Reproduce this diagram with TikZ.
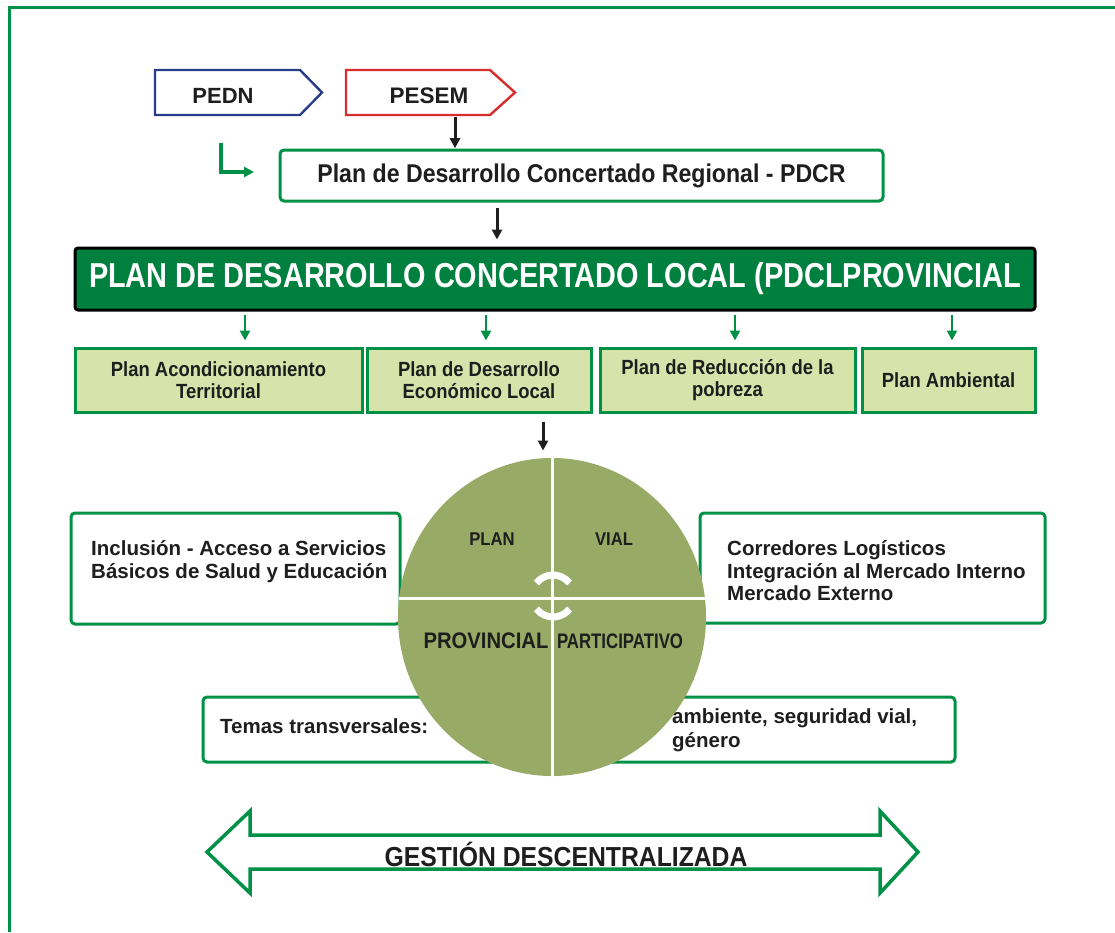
\documentclass[tikz,border=0pt]{standalone}
\usepackage{fontspec}
\setmainfont{Liberation Sans}
\newfontfamily\nar{Liberation Sans}[FakeStretch=0.9]
\newfontfamily\nart{Liberation Sans}[FakeStretch=0.835]
\newfontfamily\narr{Liberation Sans}[FakeStretch=0.8]
\usetikzlibrary{arrows.meta,calc,shapes.geometric}
\definecolor{gborder}{RGB}{0,145,70}
\definecolor{dkgreen}{RGB}{0,128,62}
\definecolor{lgreen}{RGB}{214,228,172}
\definecolor{olive}{RGB}{151,170,102}
\definecolor{pblue}{RGB}{40,60,140}
\definecolor{pred}{RGB}{215,45,45}
\definecolor{txt}{RGB}{30,30,30}
\begin{document}
\begin{tikzpicture}[x=1pt,y=-1pt,
  txtc/.style={text=txt,inner sep=0,font=\bfseries},
  gbox/.style={draw=gborder,line width=3,rounded corners=4,fill=white,inner sep=0},
  subbox/.style={draw=gborder,line width=3,fill=lgreen,inner sep=0,minimum height=64,align=center,text=txt,font=\nar\bfseries\fontsize{20.5}{22}\selectfont},
  circtext/.style={text=txt,inner sep=0},
  sidetext/.style={text=txt,inner sep=0,anchor=west,align=left},
  barrow/.style={draw=txt,line width=3,-{Triangle[length=10,width=10]}},
  garrow/.style={draw=gborder,line width=2.8,-{Triangle[length=10,width=10]}}
]
\useasboundingbox (0,0) rectangle (1115,932);
\fill[white] (0,0) rectangle (1115,932);
% outer frame
\draw[gborder,line width=3] (9,932) -- (9,7) -- (1115,7);

% PEDN / PESEM
\draw[pblue,line width=2.4,line join=miter] (155,70) -- (300,70) -- (322,92.5) -- (300,115) -- (155,115) -- cycle;
\node[txtc,font=\bfseries\fontsize{22}{26}\selectfont] (pedn) at (223,96) {PEDN};
\draw[pred,line width=2.4,line join=miter] (346,70) -- (490,70) -- (515,92.5) -- (490,115) -- (346,115) -- cycle;
\node[minimum width=144,minimum height=45,inner sep=0] (pesem) at (418,92.5) {};
\node[txtc,font=\bfseries\fontsize{22.5}{26}\selectfont] (pesemtext) at (429,96) {PESEM};

% PDCR
\node[gbox,minimum width=603,minimum height=51] (pdcr) at (581.5,175.5)
  {\color{txt}\nar\bfseries\fontsize{25.7}{30}\selectfont Plan de Desarrollo Concertado Regional - PDCR};
\draw[barrow] ($(pesem.south)+(37,2)$) -- ($(pesem.south)+(37,33)$);
\coordinate (lstart) at (221,143);
\coordinate (lend) at (254,172);
\draw[draw=gborder,line width=4.5,-{Triangle[length=10,width=10]}] (lstart) |- (lend);

% PDCL title
\node[draw=black,fill=dkgreen,line width=3,rounded corners=3,minimum width=960,minimum height=62,inner sep=0] (pdcl) at (555,279)
  {\color{white}\nart\bfseries\fontsize{34.6}{40}\selectfont PLAN DE DESARROLLO CONCERTADO LOCAL (PDCLPROVINCIAL};
\draw[barrow] ($(pdcr.south)+(-84.5,5)$) -- ($(pdcr.south)+(-84.5,37)$);

% sub boxes
\node[subbox,minimum width=287] (b1) at (218.5,380) {Plan Acondicionamiento\\Territorial};
\node[subbox,minimum width=224] (b2) at (479,380) {Plan de Desarrollo\\Económico Local};
\node[subbox,minimum width=255] (b3) at (727.5,380) {Plan de Reducción de la\\pobreza};
\node[subbox,minimum width=173] (b4) at (948.5,380) {Plan Ambiental};
\foreach \b/\dx in {b1/26.5,b2/7,b3/7.5,b4/3.5}
  \draw[garrow] ($(\b.north)+(\dx,-32)$) -- ($(\b.north)+(\dx,-6)$);

% side boxes
\node[gbox,minimum width=329,minimum height=111] (lbox) at (235.5,568.5) {};
\node[gbox,minimum width=345,minimum height=110] (rbox) at (872.5,568) {};
\node[gbox,minimum width=752,minimum height=65] (bbox) at (579,729.5) {};
\node[sidetext,font=\bfseries\fontsize{20.5}{23}\selectfont] (ltext) at (91,562)
  {Inclusión - Acceso a Servicios\\Básicos de Salud y Educación};
\node[sidetext,font=\bfseries\fontsize{20.5}{22.5}\selectfont] (rtext) at (727,571)
  {Corredores Logísticos\\Integración al Mercado Interno\\Mercado Externo};
\node[sidetext,font=\bfseries\fontsize{20.5}{23}\selectfont] (ttext) at (220,726) {Temas transversales:};
\node[sidetext,font=\bfseries\fontsize{20.5}{24}\selectfont] (atext) at (672,730)
  {ambiente, seguridad vial,\\género};

% circle
\node[ellipse,fill=olive,minimum width=308,minimum height=318,inner sep=0] (circ) at (552,617) {};
\draw[barrow] ($(b2.south)+(64,8)$) -- ($(b2.south)+(64,37)$);
\draw[white,line width=3] (circ.north) -- (circ.south);
\draw[white,line width=3] ($(circ.center)+(-153,-19)$) -- ($(circ.center)+(153,-19)$);
\coordinate (sym) at (553,596);
\draw[white,line width=7] ([shift={(38:21pt)}]sym) arc[start angle=38,end angle=142,radius=21pt];
\draw[white,line width=7] ([shift={(218:21pt)}]sym) arc[start angle=218,end angle=322,radius=21pt];
\node[circtext,font=\nar\bfseries\fontsize{18.5}{21}\selectfont] (cplan) at (492,539) {PLAN};
\node[circtext,font=\nar\bfseries\fontsize{18.5}{21}\selectfont] (cvial) at (614,539) {VIAL};
\node[circtext,font=\nar\bfseries\fontsize{22.5}{26}\selectfont] (cprov) at (486,641) {PROVINCIAL};
\node[circtext,font=\narr\bfseries\fontsize{21}{25}\selectfont] (cpart) at (620,641) {PARTICIPATIVO};

% double arrow
\node[txtc,font=\nar\bfseries\fontsize{27.5}{32}\selectfont] (gest) at (566,854) {GESTIÓN DESCENTRALIZADA};
\draw[gborder,line width=3.5,line join=miter] (207,852) -- (250,811) -- (250,835) -- (880,835) -- (880,811) -- (918,852)
  -- (880,893) -- (880,869) -- (250,869) -- (250,893) -- cycle;
\end{tikzpicture}
\end{document}
